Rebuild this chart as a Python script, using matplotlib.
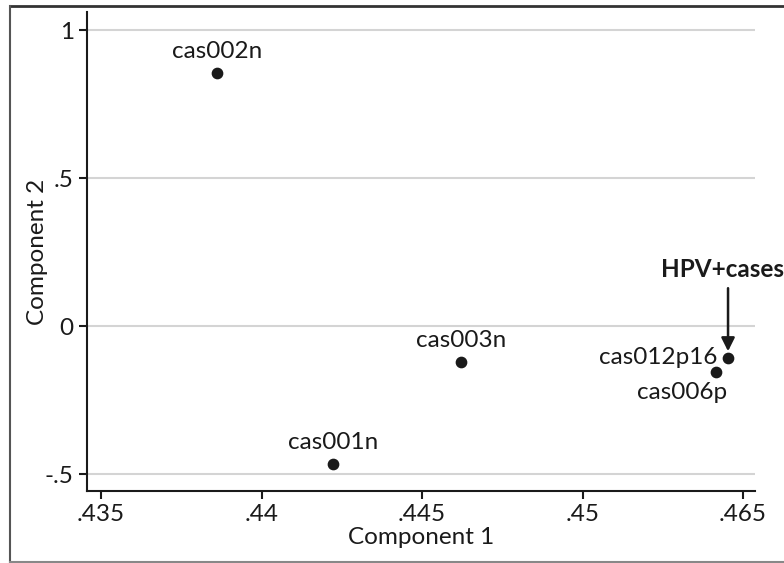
import matplotlib
matplotlib.use("Agg")
import matplotlib.pyplot as plt
from matplotlib.lines import Line2D

# Data
labels = ["cas002n", "cas003n", "cas001n", "cas012p16", "cas006p"]
comp1 = [0.43861, 0.44621, 0.44223, 0.45453, 0.45416]
comp2 = [0.855, -0.120, -0.465, -0.107, -0.155]
label_pos = ["top", "top", "top", "left", "bottomleft"]

xticks = [0.435, 0.44, 0.445, 0.45, 0.455]
xticklabels = [".435", ".44", ".445", ".45", ".465"]
yticks = [-0.5, 0, 0.5, 1]
yticklabels = ["-.5", "0", ".5", "1"]

annot_text = "HPV+cases"
annot_target = (0.45453, -0.085)
annot_start = (0.45453, 0.128)
annot_textpos = (0.45437, 0.152)

plt.rcParams["font.family"] = ["Lato", "DejaVu Sans"]
FS = 17.5
TC = "#1a1a1a"

fig = plt.figure(figsize=(7.84, 5.63), dpi=100)
fig.patch.set_facecolor("white")
ax = fig.add_axes([87/784, 72/563, (755-87)/784, (491-12)/563])

ax.set_xlim(0.43456, 0.45537)
ax.set_ylim(-0.557, 1.061)

ax.grid(axis="y", color="#d4d4d4", linewidth=1.5)
ax.set_axisbelow(True)

ax.scatter(comp1, comp2, s=55, color=TC, zorder=3)

offsets = {"top": (0, 8, "center", "bottom"),
           "left": (-8, 0, "right", "center"),
           "bottomleft": (8, -7, "right", "top")}
for x, y, lab, pos in zip(comp1, comp2, labels, label_pos):
    dx, dy, ha, va = offsets[pos]
    ax.annotate(lab, (x, y), xytext=(dx, dy), textcoords="offset points",
                ha=ha, va=va, fontsize=FS, color=TC)

ax.annotate("", xy=annot_target, xytext=annot_start,
            arrowprops=dict(arrowstyle="-|>", color=TC, lw=1.8,
                            mutation_scale=20, shrinkA=0, shrinkB=0),
            annotation_clip=False)
ax.text(annot_textpos[0], annot_textpos[1], annot_text, ha="center", va="bottom",
        fontsize=FS, fontweight="bold", color=TC, clip_on=False)

ax.set_xticks(xticks)
ax.set_xticklabels(xticklabels)
ax.set_yticks(yticks)
ax.set_yticklabels(yticklabels)
ax.tick_params(axis="both", labelsize=FS, colors=TC, length=6, width=1.5)

for s in ["top", "right"]:
    ax.spines[s].set_visible(False)
for s in ["left", "bottom"]:
    ax.spines[s].set_linewidth(1.5)
    ax.spines[s].set_color(TC)

ax.set_xlabel("Component 1", fontsize=FS, color=TC, labelpad=1)
ax.set_ylabel("Component 2", fontsize=FS, color=TC, labelpad=-2.5)

# outer frame
W, H = 784, 563
fig.add_artist(Line2D([10/W, 1], [1-6/H, 1-6/H], color="#333333", lw=2, transform=fig.transFigure))
fig.add_artist(Line2D([10/W, 10/W], [1-6/H, 1-562/H], color="#555555", lw=1.5, transform=fig.transFigure))
fig.add_artist(Line2D([10/W, 1], [1-562/H, 1-562/H], color="#888888", lw=1.5, transform=fig.transFigure))

fig.savefig("out.png", dpi=100)
